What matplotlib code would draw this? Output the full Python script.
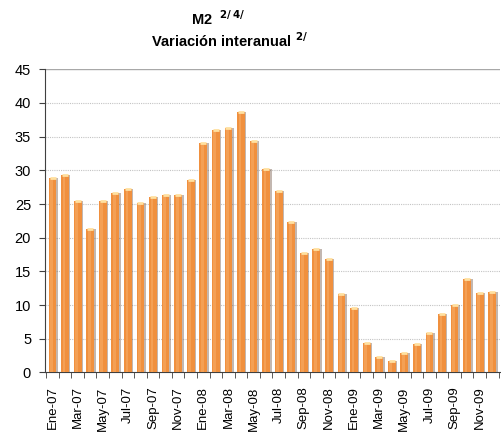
import matplotlib
matplotlib.use("Agg")
import matplotlib.pyplot as plt
import numpy as np

months = ["Ene-07","Feb-07","Mar-07","Abr-07","May-07","Jun-07","Jul-07","Ago-07","Sep-07","Oct-07","Nov-07","Dic-07",
          "Ene-08","Feb-08","Mar-08","Abr-08","May-08","Jun-08","Jul-08","Ago-08","Sep-08","Oct-08","Nov-08","Dic-08",
          "Ene-09","Feb-09","Mar-09","Abr-09","May-09","Jun-09","Jul-09","Ago-09","Sep-09","Oct-09","Nov-09","Dic-09"]
values = [28.9, 29.3, 25.5, 21.3, 25.4, 26.7, 27.2, 25.2, 26.1, 26.4, 26.4, 28.6,
          34.0, 36.0, 36.3, 38.7, 34.4, 30.2, 26.9, 22.4, 17.8, 18.4, 16.8, 11.7,
          9.6, 4.4, 2.3, 1.7, 2.85, 4.3, 5.8, 8.7, 10.0, 13.9, 11.8, 12.0]
yticks = [0, 5, 10, 15, 20, 25, 30, 35, 40, 45]

plt.rcParams['font.family'] = ['Liberation Sans', 'DejaVu Sans']

fig = plt.figure(figsize=(5.02, 4.37), dpi=100)
ax = fig.add_axes([0.0896, 0.1476, 0.906, 0.6938])

x = np.arange(len(months))
w = 0.62
# shadow
ax.bar(x + 0.12, values, width=w, color='#7a6050', alpha=0.45, zorder=2, linewidth=0)
# main bar
ax.bar(x, values, width=w, color='#F0903E', zorder=3, linewidth=0)
# highlight strip
ax.bar(x - 0.08, values, width=w * 0.35, color='#F7A860', zorder=4, linewidth=0, alpha=0.7)
# top cap
ax.scatter(x, values, s=14, marker='_', color='#FFE0A0', zorder=5, linewidths=2)

ax.set_xlim(-0.6, len(months) - 0.4)
ax.set_ylim(0, 45)
ax.set_yticks(yticks)
ax.set_yticklabels([str(t) for t in yticks], fontsize=10.5)
for t in yticks[1:-1]:
    ax.axhline(t, color='#c4c4c4', linestyle=(0, (1, 1)), linewidth=0.8, zorder=1)
ax.axhline(45, color='#a8a8a8', linewidth=1.0, zorder=1)

ax.set_xticks(x[::2])
ax.set_xticklabels(months[::2], rotation=90, fontsize=9.5)
ax.tick_params(axis='x', length=0, pad=10)
ax.set_xticks(np.arange(-0.5, len(months), 1), minor=True)
ax.tick_params(axis='x', which='minor', length=4, direction='out', color='#404040')
ax.tick_params(axis='y', length=4, direction='out', color='#404040', pad=6)

for s in ['top', 'right']:
    ax.spines[s].set_visible(False)
ax.spines['left'].set_color('#404040')
ax.spines['bottom'].set_color('#404040')

fig.text(0.434, 0.958, r"M2  $^{\mathbf{2/\,4/}}$", ha='center', va='center', fontsize=10.5, fontweight='bold')
fig.text(0.457, 0.908, r"Variación interanual $^{\mathbf{2/}}$", ha='center', va='center', fontsize=10.5, fontweight='bold')

fig.savefig("out.png", dpi=100)
